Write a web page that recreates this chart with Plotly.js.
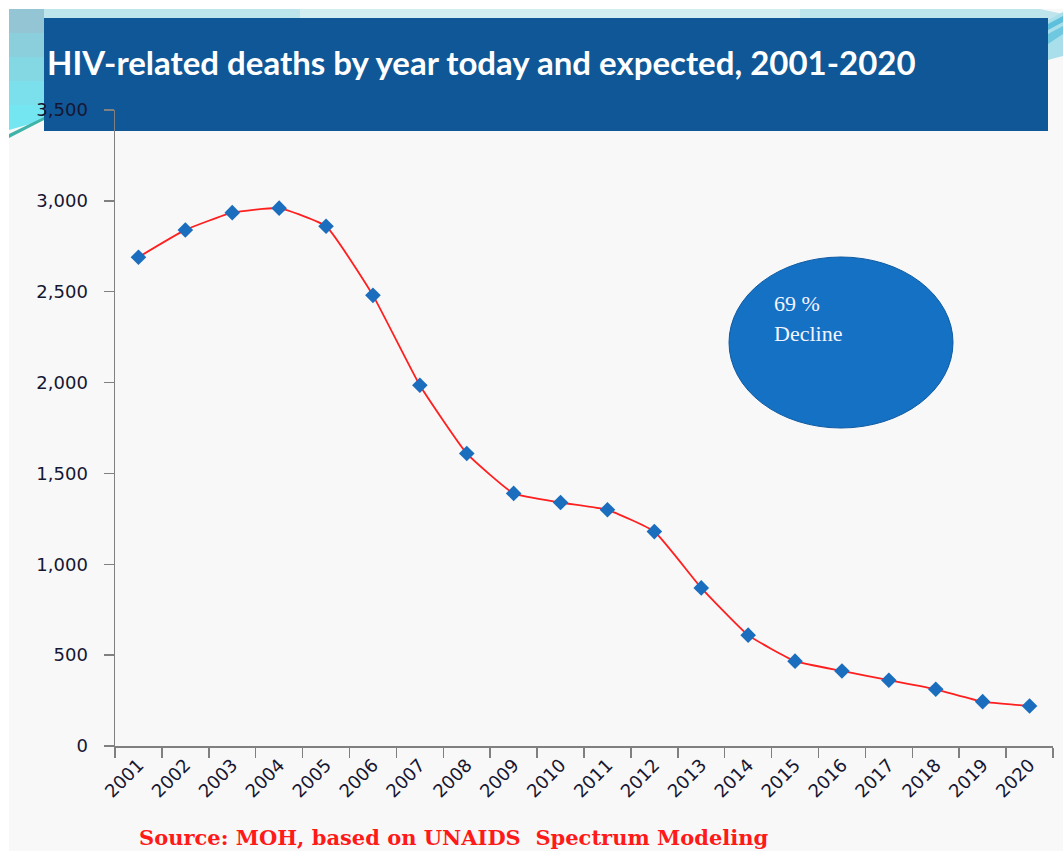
<!DOCTYPE html>
<html>
<head>
<meta charset="utf-8">
<script src="https://cdn.plot.ly/plotly-3.0.1.min.js"></script>
<style>
  html, body { margin: 0; padding: 0; background: #ffffff; }
  #chart { width: 1063px; height: 851px; }
</style>
</head>
<body>
<div id="chart"></div>
<script>
// Annual HIV-related deaths, recorded and projected
const years = ['2001','2002','2003','2004','2005','2006','2007','2008','2009','2010',
               '2011','2012','2013','2014','2015','2016','2017','2018','2019','2020'];
const deaths = [2690, 2840, 2935, 2960, 2860, 2480, 1985, 1610, 1390, 1340,
                1300, 1180, 870, 610, 467, 413, 362, 312, 244, 220];
const yTicks = [0, 500, 1000, 1500, 2000, 2500, 3000, 3500];

const titleText = 'HIV-related deaths by year today and expected, 2001-2020';
const bubbleLine1 = '69 %';
const bubbleLine2 = 'Decline';
const sourceText = 'Source: MOH, based on UNAIDS&nbsp;&nbsp;Spectrum Modeling';

// page geometry (pixels) used to place decorations in paper coordinates
const W = 1063, H = 851;
const M = { l: 115, r: 10, t: 110, b: 105 };
const PW = W - M.l - M.r, PH = H - M.t - M.b;
const X = px => (px - M.l) / PW;
const Y = py => (H - M.b - py) / PH;

function rect(x0, y0, x1, y1, color, layer) {
  return { type: 'rect', xref: 'paper', yref: 'paper', layer: layer || 'below',
           x0: X(x0), x1: X(x1), y0: Y(y1), y1: Y(y0),
           fillcolor: color, line: { width: 0 } };
}
function poly(pts, color, lineColor, lineWidth) {
  const d = pts.map((p, i) => (i ? 'L' : 'M') + X(p[0]) + ',' + Y(p[1])).join(' ') + ' Z';
  return { type: 'path', xref: 'paper', yref: 'paper', layer: 'below', path: d,
           fillcolor: color, line: { width: lineWidth || 0, color: lineColor || color } };
}

const shapes = [];
// slide background
shapes.push(rect(9, 9, 1063, 851, '#f8f8f8'));
// cyan ribbon along the top
shapes.push(poly([[9, 9], [1040, 9], [1063, 14], [1063, 22], [1048, 20], [9, 20]], '#bfe5ec'));
shapes.push(poly([[300, 9], [800, 9], [800, 18], [300, 18]], '#d3eef1'));
// cyan wedge on the left, darker at the top, brighter at the bottom
const leftBands = ['#93c5d4', '#8ccfdc', '#84d8e4', '#7ce0ec', '#74e6f1'];
leftBands.forEach((c, i) => {
  const y0 = 9 + i * 24, y1 = y0 + 25;
  shapes.push(poly([[9, y0], [44, y0], [44, Math.min(y1, 120)], [9, Math.min(y1, 137)]], c));
});
shapes.push(poly([[9, 134], [44, 117], [44, 120], [9, 138]], '#3fb3a8'));
// cyan streaks on the right
shapes.push(poly([[1048, 20], [1063, 12], [1063, 56], [1048, 60]], '#a9dfeb'));
shapes.push(poly([[1048, 24], [1063, 16], [1063, 22], [1048, 30]], '#5cbfdc'));
shapes.push(poly([[1048, 34], [1063, 26], [1063, 34], [1048, 44]], '#6ec8e0'));
// title banner
shapes.push(rect(44, 18, 1048, 131, '#0f5796'));
// highlight bubble
shapes.push({ type: 'circle', xref: 'paper', yref: 'paper', layer: 'above',
              x0: X(729), x1: X(953), y0: Y(428), y1: Y(257),
              fillcolor: '#1471c4', line: { color: '#0e5aa3', width: 1 } });

const trace = {
  type: 'scatter', mode: 'lines+markers',
  x: years, y: deaths,
  line: { color: '#ff1f1f', width: 1.8, shape: 'spline', smoothing: 0.4 },
  marker: { symbol: 'diamond', size: 12, color: '#1b6dbe', line: { width: 0 } },
  hoverinfo: 'x+y'
};

const axisFont = { family: 'DejaVu Sans', size: 18, color: '#161632' };

const layout = {
  width: W, height: H, autosize: false,
  margin: M,
  paper_bgcolor: '#ffffff',
  plot_bgcolor: 'rgba(0,0,0,0)',
  showlegend: false,
  xaxis: {
    type: 'category', range: [-0.5, 19.5],
    showline: true, linecolor: '#808080', linewidth: 1.5,
    ticks: 'outside', tickson: 'boundaries', ticklen: 10, tickcolor: '#808080', tickwidth: 1.5,
    tickangle: -45, tickfont: axisFont,
    showgrid: false, zeroline: false, fixedrange: true
  },
  yaxis: {
    range: [0, 3500], tickvals: yTicks, tickformat: ',d',
    showline: true, linecolor: '#808080', linewidth: 1.5,
    ticks: 'outside', ticklen: 10, tickcolor: '#808080', tickwidth: 1.5,
    ticklabelstandoff: 12,
    tickfont: axisFont,
    showgrid: false, zeroline: false, fixedrange: true
  },
  shapes: shapes,
  annotations: [
    { text: '<b>' + titleText + '</b>', xref: 'paper', yref: 'paper',
      x: X(45), y: Y(62), xanchor: 'left', yanchor: 'middle', showarrow: false,
      font: { family: 'Lato', size: 33, color: '#ffffff' } },
    { text: bubbleLine1, xref: 'paper', yref: 'paper',
      x: X(772), y: Y(303), xanchor: 'left', yanchor: 'middle', showarrow: false,
      font: { family: 'Liberation Serif', size: 22, color: '#f4f4ff' } },
    { text: bubbleLine2, xref: 'paper', yref: 'paper',
      x: X(772), y: Y(333), xanchor: 'left', yanchor: 'middle', showarrow: false,
      font: { family: 'Liberation Serif', size: 22, color: '#f4f4ff' } },
    { text: '<b>' + sourceText + '</b>', xref: 'paper', yref: 'paper',
      x: X(137), y: Y(837), xanchor: 'left', yanchor: 'middle', showarrow: false,
      font: { family: 'DejaVu Serif', size: 21, color: '#ff1a1a' } }
  ]
};

Plotly.newPlot('chart', [trace], layout, { displayModeBar: false, staticPlot: true });
</script>
</body>
</html>
